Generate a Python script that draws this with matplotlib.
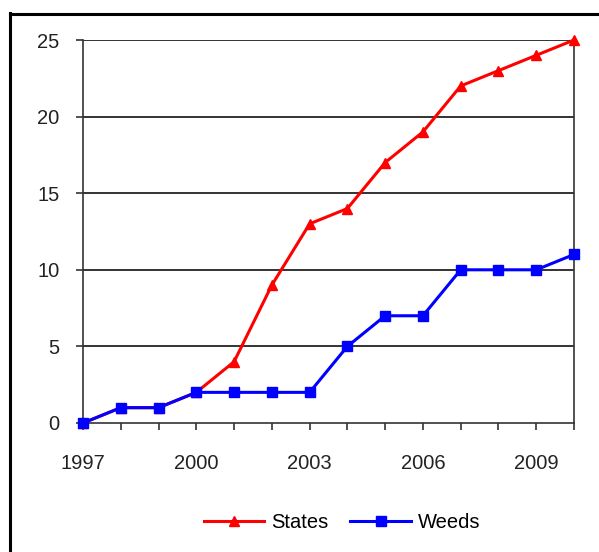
import matplotlib
matplotlib.use("Agg")
import matplotlib.pyplot as plt
from matplotlib.lines import Line2D

plt.rcParams['font.family'] = ['Liberation Sans', 'DejaVu Sans']

years = [1997, 1998, 1999, 2000, 2001, 2002, 2003, 2004, 2005, 2006, 2007, 2008, 2009, 2010]
states = [0, 1, 1, 2, 4, 9, 13, 14, 17, 19, 22, 23, 24, 25]
weeds = [0, 1, 1, 2, 2, 2, 2, 5, 7, 7, 10, 10, 10, 11]
year_labels = [1997, 2000, 2003, 2006, 2009]
y_ticks = [0, 5, 10, 15, 20, 25]

fig = plt.figure(figsize=(5.99, 5.52), dpi=100)
ax = fig.add_axes([83/599, 1 - 423/552, (574 - 83)/599, (423 - 40)/552])

ax.plot(years, states, color='#ff0000', lw=2.2, marker='^', ms=7.5, label='States',
        zorder=3, clip_on=False)
ax.plot(years, weeds, color='#0000ff', lw=2.2, marker='s', ms=7, label='Weeds',
        zorder=4, clip_on=False)

ax.set_xlim(1997, 2010)
ax.set_ylim(0, 25)
ax.set_yticks(y_ticks)
ax.set_xticks(years)
ax.set_xticklabels([str(y) if y in year_labels else '' for y in years])
ax.tick_params(axis='both', direction='out', length=5, width=1.2, color='#333333',
               labelsize=14.5, labelcolor='#222222')
ax.tick_params(axis='x', pad=17)
ax.tick_params(axis='y', pad=12)
for y in y_ticks[1:]:
    ax.axhline(y, color='#111111', lw=1.2, zorder=1)
for side in ['left', 'right', 'bottom']:
    ax.spines[side].set_color('#333333')
    ax.spines[side].set_linewidth(1.2)
ax.spines['top'].set_visible(False)

fig.legend(loc='center', bbox_to_anchor=(342/599, 1 - 523/552), ncol=2, frameon=False,
           fontsize=14.5, handlelength=3, columnspacing=1.1, handletextpad=0.35)

# outer frame
fig.add_artist(Line2D([10/599, 10/599], [0, 1 - 13/552], color='black', lw=2.2, transform=fig.transFigure))
fig.add_artist(Line2D([10/599, 1], [1 - 14/552, 1 - 14/552], color='black', lw=2.2, transform=fig.transFigure))

fig.savefig('out.png', dpi=100)
